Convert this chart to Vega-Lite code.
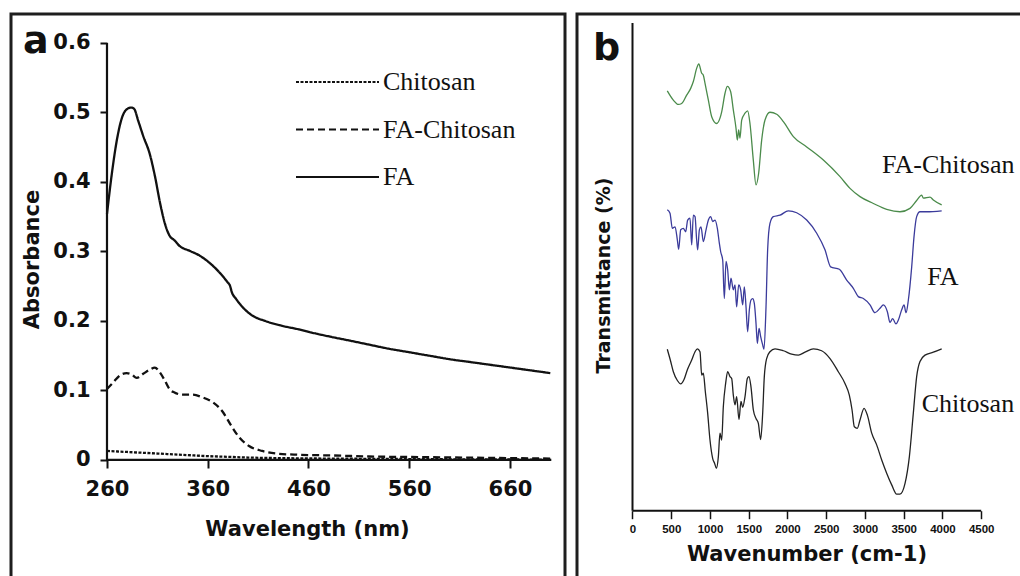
{
"$schema":"https://vega.github.io/schema/vega-lite/v6.json",
"autosize":{"type":"none"},
"padding":{"left":11,"top":14,"right":1009,"bottom":562},
"background":"white",
"bounds":"flush",
"spacing":12,
"config":{
 "view":{"stroke":"#1e1e1e","strokeWidth":3},
 "axis":{"grid":false,"domain":false,"tickColor":"#111","labelColor":"#111","titleColor":"#111","labelFont":"DejaVu Sans","titleFont":"DejaVu Sans","labelFontWeight":"bold","titleFontWeight":"bold","labelOverlap":false,"labelFlush":false},
 "legend":{"labelLimit":0}
},
"datasets":{
"uv":[
{"s":"FA","wl":260,"abs":0.354},{"s":"FA","wl":265,"abs":0.414},{"s":"FA","wl":270,"abs":0.462},{"s":"FA","wl":275,"abs":0.493},{"s":"FA","wl":280,"abs":0.505},{"s":"FA","wl":284,"abs":0.507},{"s":"FA","wl":287,"abs":0.505},{"s":"FA","wl":291,"abs":0.488},{"s":"FA","wl":296,"abs":0.466},{"s":"FA","wl":302.5,"abs":0.44},{"s":"FA","wl":307.5,"abs":0.409},{"s":"FA","wl":312.5,"abs":0.371},{"s":"FA","wl":317.5,"abs":0.34},{"s":"FA","wl":322,"abs":0.323},{"s":"FA","wl":327,"abs":0.316},{"s":"FA","wl":332,"abs":0.308},{"s":"FA","wl":342,"abs":0.301},{"s":"FA","wl":352,"abs":0.294},{"s":"FA","wl":361.5,"abs":0.284},{"s":"FA","wl":371.5,"abs":0.27},{"s":"FA","wl":379.5,"abs":0.256},{"s":"FA","wl":382,"abs":0.251},{"s":"FA","wl":384,"abs":0.241},{"s":"FA","wl":388,"abs":0.232},{"s":"FA","wl":394.5,"abs":0.22},{"s":"FA","wl":404,"abs":0.208},{"s":"FA","wl":417,"abs":0.2},{"s":"FA","wl":434,"abs":0.193},{"s":"FA","wl":450,"abs":0.188},{"s":"FA","wl":467,"abs":0.182},{"s":"FA","wl":483,"abs":0.177},{"s":"FA","wl":500,"abs":0.172},{"s":"FA","wl":520,"abs":0.166},{"s":"FA","wl":540,"abs":0.16},{"s":"FA","wl":560,"abs":0.155},{"s":"FA","wl":580,"abs":0.15},{"s":"FA","wl":600,"abs":0.145},{"s":"FA","wl":620,"abs":0.141},{"s":"FA","wl":640,"abs":0.137},{"s":"FA","wl":660,"abs":0.133},{"s":"FA","wl":680,"abs":0.129},{"s":"FA","wl":700,"abs":0.125},
{"s":"FA-Chitosan","wl":260,"abs":0.102},{"s":"FA-Chitosan","wl":266.5,"abs":0.112},{"s":"FA-Chitosan","wl":273,"abs":0.122},{"s":"FA-Chitosan","wl":279.5,"abs":0.125},{"s":"FA-Chitosan","wl":284.5,"abs":0.123},{"s":"FA-Chitosan","wl":289.5,"abs":0.118},{"s":"FA-Chitosan","wl":296,"abs":0.124},{"s":"FA-Chitosan","wl":302.5,"abs":0.13},{"s":"FA-Chitosan","wl":307.5,"abs":0.133},{"s":"FA-Chitosan","wl":312.5,"abs":0.126},{"s":"FA-Chitosan","wl":317.5,"abs":0.114},{"s":"FA-Chitosan","wl":322,"abs":0.102},{"s":"FA-Chitosan","wl":327,"abs":0.097},{"s":"FA-Chitosan","wl":335,"abs":0.094},{"s":"FA-Chitosan","wl":345,"abs":0.094},{"s":"FA-Chitosan","wl":355,"abs":0.09},{"s":"FA-Chitosan","wl":365,"abs":0.083},{"s":"FA-Chitosan","wl":375,"abs":0.069},{"s":"FA-Chitosan","wl":383,"abs":0.05},{"s":"FA-Chitosan","wl":391,"abs":0.033},{"s":"FA-Chitosan","wl":401,"abs":0.02},{"s":"FA-Chitosan","wl":414,"abs":0.013},{"s":"FA-Chitosan","wl":430,"abs":0.009},{"s":"FA-Chitosan","wl":450,"abs":0.0075},{"s":"FA-Chitosan","wl":483,"abs":0.0065},{"s":"FA-Chitosan","wl":520,"abs":0.005},{"s":"FA-Chitosan","wl":580,"abs":0.004},{"s":"FA-Chitosan","wl":640,"abs":0.003},{"s":"FA-Chitosan","wl":700,"abs":0.002},
{"s":"Chitosan","wl":260,"abs":0.013},{"s":"Chitosan","wl":280,"abs":0.0115},{"s":"Chitosan","wl":300,"abs":0.01},{"s":"Chitosan","wl":320,"abs":0.0085},{"s":"Chitosan","wl":340,"abs":0.007},{"s":"Chitosan","wl":360,"abs":0.0055},{"s":"Chitosan","wl":380,"abs":0.0045},{"s":"Chitosan","wl":400,"abs":0.0035},{"s":"Chitosan","wl":440,"abs":0.0025},{"s":"Chitosan","wl":500,"abs":0.0018},{"s":"Chitosan","wl":600,"abs":0.001},{"s":"Chitosan","wl":700,"abs":0.0005}
],
"ftir":[
{"s":"FA-Chitosan","wn":449,"t":86.1},{"s":"FA-Chitosan","wn":527,"t":84.2},{"s":"FA-Chitosan","wn":591,"t":83.3},{"s":"FA-Chitosan","wn":635,"t":83.5},{"s":"FA-Chitosan","wn":699,"t":85.2},{"s":"FA-Chitosan","wn":751,"t":86.6},{"s":"FA-Chitosan","wn":785,"t":88.0},{"s":"FA-Chitosan","wn":828,"t":90.7},{"s":"FA-Chitosan","wn":855,"t":91.6},{"s":"FA-Chitosan","wn":893,"t":89.7},{"s":"FA-Chitosan","wn":914,"t":89.3},{"s":"FA-Chitosan","wn":936,"t":87.6},{"s":"FA-Chitosan","wn":979,"t":84.2},{"s":"FA-Chitosan","wn":1022,"t":80.8},{"s":"FA-Chitosan","wn":1086,"t":79.4},{"s":"FA-Chitosan","wn":1129,"t":80.5},{"s":"FA-Chitosan","wn":1151,"t":81.8},{"s":"FA-Chitosan","wn":1194,"t":85.6},{"s":"FA-Chitosan","wn":1224,"t":87.0},{"s":"FA-Chitosan","wn":1267,"t":85.9},{"s":"FA-Chitosan","wn":1301,"t":82.2},{"s":"FA-Chitosan","wn":1336,"t":78.4},{"s":"FA-Chitosan","wn":1353,"t":76.0},{"s":"FA-Chitosan","wn":1370,"t":78.1},{"s":"FA-Chitosan","wn":1387,"t":76.4},{"s":"FA-Chitosan","wn":1409,"t":80.1},{"s":"FA-Chitosan","wn":1452,"t":81.5},{"s":"FA-Chitosan","wn":1486,"t":82.0},{"s":"FA-Chitosan","wn":1516,"t":79.4},{"s":"FA-Chitosan","wn":1559,"t":71.9},{"s":"FA-Chitosan","wn":1594,"t":66.8},{"s":"FA-Chitosan","wn":1628,"t":69.2},{"s":"FA-Chitosan","wn":1667,"t":76.0},{"s":"FA-Chitosan","wn":1710,"t":80.1},{"s":"FA-Chitosan","wn":1774,"t":81.7},{"s":"FA-Chitosan","wn":1861,"t":81.3},{"s":"FA-Chitosan","wn":1947,"t":79.8},{"s":"FA-Chitosan","wn":2076,"t":76.7},{"s":"FA-Chitosan","wn":2248,"t":74.6},{"s":"FA-Chitosan","wn":2463,"t":71.9},{"s":"FA-Chitosan","wn":2678,"t":68.5},{"s":"FA-Chitosan","wn":2807,"t":66.1},{"s":"FA-Chitosan","wn":2936,"t":64.4},{"s":"FA-Chitosan","wn":3108,"t":63.0},{"s":"FA-Chitosan","wn":3280,"t":61.8},{"s":"FA-Chitosan","wn":3452,"t":61.3},{"s":"FA-Chitosan","wn":3581,"t":62.0},{"s":"FA-Chitosan","wn":3667,"t":63.6},{"s":"FA-Chitosan","wn":3732,"t":64.7},{"s":"FA-Chitosan","wn":3753,"t":64.1},{"s":"FA-Chitosan","wn":3839,"t":64.3},{"s":"FA-Chitosan","wn":3882,"t":63.7},{"s":"FA-Chitosan","wn":3990,"t":62.7},
{"s":"FA","wn":449,"t":61.7},{"s":"FA","wn":484,"t":61.0},{"s":"FA","wn":514,"t":57.9},{"s":"FA","wn":549,"t":58.2},{"s":"FA","wn":579,"t":55.5},{"s":"FA","wn":596,"t":53.6},{"s":"FA","wn":622,"t":57.6},{"s":"FA","wn":656,"t":57.9},{"s":"FA","wn":686,"t":57.2},{"s":"FA","wn":712,"t":59.6},{"s":"FA","wn":742,"t":60.0},{"s":"FA","wn":764,"t":54.5},{"s":"FA","wn":785,"t":60.6},{"s":"FA","wn":807,"t":60.3},{"s":"FA","wn":828,"t":55.5},{"s":"FA","wn":841,"t":53.5},{"s":"FA","wn":863,"t":57.6},{"s":"FA","wn":884,"t":58.2},{"s":"FA","wn":914,"t":55.2},{"s":"FA","wn":949,"t":57.6},{"s":"FA","wn":979,"t":59.6},{"s":"FA","wn":1009,"t":60.3},{"s":"FA","wn":1035,"t":59.3},{"s":"FA","wn":1065,"t":59.6},{"s":"FA","wn":1095,"t":57.9},{"s":"FA","wn":1121,"t":54.8},{"s":"FA","wn":1138,"t":53.1},{"s":"FA","wn":1164,"t":51.4},{"s":"FA","wn":1185,"t":43.5},{"s":"FA","wn":1207,"t":51.1},{"s":"FA","wn":1228,"t":49.4},{"s":"FA","wn":1250,"t":45.3},{"s":"FA","wn":1271,"t":47.7},{"s":"FA","wn":1301,"t":45.3},{"s":"FA","wn":1323,"t":46.3},{"s":"FA","wn":1344,"t":41.8},{"s":"FA","wn":1370,"t":46.3},{"s":"FA","wn":1396,"t":45.3},{"s":"FA","wn":1422,"t":42.2},{"s":"FA","wn":1443,"t":45.9},{"s":"FA","wn":1465,"t":41.8},{"s":"FA","wn":1486,"t":36.7},{"s":"FA","wn":1508,"t":41.2},{"s":"FA","wn":1529,"t":43.2},{"s":"FA","wn":1551,"t":43.5},{"s":"FA","wn":1572,"t":42.5},{"s":"FA","wn":1594,"t":38.4},{"s":"FA","wn":1611,"t":34.3},{"s":"FA","wn":1633,"t":37.4},{"s":"FA","wn":1654,"t":35.7},{"s":"FA","wn":1680,"t":34.0},{"s":"FA","wn":1697,"t":33.1},{"s":"FA","wn":1723,"t":41.8},{"s":"FA","wn":1744,"t":53.5},{"s":"FA","wn":1774,"t":58.9},{"s":"FA","wn":1817,"t":60.3},{"s":"FA","wn":1904,"t":60.6},{"s":"FA","wn":2011,"t":61.5},{"s":"FA","wn":2119,"t":61.1},{"s":"FA","wn":2248,"t":59.6},{"s":"FA","wn":2377,"t":56.9},{"s":"FA","wn":2484,"t":53.5},{"s":"FA","wn":2557,"t":50.0},{"s":"FA","wn":2669,"t":49.5},{"s":"FA","wn":2764,"t":47.3},{"s":"FA","wn":2850,"t":45.6},{"s":"FA","wn":2914,"t":43.9},{"s":"FA","wn":2979,"t":43.5},{"s":"FA","wn":3065,"t":42.2},{"s":"FA","wn":3129,"t":40.6},{"s":"FA","wn":3194,"t":41.5},{"s":"FA","wn":3237,"t":42.2},{"s":"FA","wn":3289,"t":40.8},{"s":"FA","wn":3323,"t":38.6},{"s":"FA","wn":3357,"t":39.4},{"s":"FA","wn":3400,"t":38.3},{"s":"FA","wn":3431,"t":39.1},{"s":"FA","wn":3474,"t":41.2},{"s":"FA","wn":3504,"t":42.2},{"s":"FA","wn":3530,"t":40.6},{"s":"FA","wn":3560,"t":43.2},{"s":"FA","wn":3603,"t":50.0},{"s":"FA","wn":3633,"t":56.2},{"s":"FA","wn":3667,"t":60.3},{"s":"FA","wn":3710,"t":61.3},{"s":"FA","wn":3796,"t":61.3},{"s":"FA","wn":3990,"t":61.5},
{"s":"Chitosan","wn":449,"t":33.1},{"s":"Chitosan","wn":493,"t":30.6},{"s":"Chitosan","wn":527,"t":28.5},{"s":"Chitosan","wn":579,"t":26.7},{"s":"Chitosan","wn":622,"t":26.0},{"s":"Chitosan","wn":665,"t":26.9},{"s":"Chitosan","wn":708,"t":28.9},{"s":"Chitosan","wn":764,"t":30.9},{"s":"Chitosan","wn":807,"t":32.6},{"s":"Chitosan","wn":837,"t":33.2},{"s":"Chitosan","wn":871,"t":32.6},{"s":"Chitosan","wn":893,"t":27.8},{"s":"Chitosan","wn":914,"t":28.2},{"s":"Chitosan","wn":940,"t":24.4},{"s":"Chitosan","wn":970,"t":20.0},{"s":"Chitosan","wn":1000,"t":14.5},{"s":"Chitosan","wn":1035,"t":10.7},{"s":"Chitosan","wn":1060,"t":9.7},{"s":"Chitosan","wn":1082,"t":8.7},{"s":"Chitosan","wn":1108,"t":11.1},{"s":"Chitosan","wn":1129,"t":15.9},{"s":"Chitosan","wn":1151,"t":14.5},{"s":"Chitosan","wn":1172,"t":21.3},{"s":"Chitosan","wn":1202,"t":26.1},{"s":"Chitosan","wn":1228,"t":28.5},{"s":"Chitosan","wn":1258,"t":27.5},{"s":"Chitosan","wn":1280,"t":27.1},{"s":"Chitosan","wn":1301,"t":23.7},{"s":"Chitosan","wn":1323,"t":21.7},{"s":"Chitosan","wn":1344,"t":23.4},{"s":"Chitosan","wn":1374,"t":18.7},{"s":"Chitosan","wn":1400,"t":22.4},{"s":"Chitosan","wn":1422,"t":21.2},{"s":"Chitosan","wn":1452,"t":23.4},{"s":"Chitosan","wn":1482,"t":27.1},{"s":"Chitosan","wn":1503,"t":27.5},{"s":"Chitosan","wn":1529,"t":25.4},{"s":"Chitosan","wn":1559,"t":20.7},{"s":"Chitosan","wn":1594,"t":18.9},{"s":"Chitosan","wn":1624,"t":17.9},{"s":"Chitosan","wn":1654,"t":14.6},{"s":"Chitosan","wn":1680,"t":20.0},{"s":"Chitosan","wn":1701,"t":27.5},{"s":"Chitosan","wn":1731,"t":31.2},{"s":"Chitosan","wn":1774,"t":32.6},{"s":"Chitosan","wn":1839,"t":33.2},{"s":"Chitosan","wn":1947,"t":32.8},{"s":"Chitosan","wn":2054,"t":32.1},{"s":"Chitosan","wn":2140,"t":31.9},{"s":"Chitosan","wn":2226,"t":32.5},{"s":"Chitosan","wn":2334,"t":33.2},{"s":"Chitosan","wn":2441,"t":32.8},{"s":"Chitosan","wn":2549,"t":31.2},{"s":"Chitosan","wn":2656,"t":28.5},{"s":"Chitosan","wn":2742,"t":26.1},{"s":"Chitosan","wn":2798,"t":23.7},{"s":"Chitosan","wn":2833,"t":20.7},{"s":"Chitosan","wn":2863,"t":17.2},{"s":"Chitosan","wn":2901,"t":16.9},{"s":"Chitosan","wn":2936,"t":18.6},{"s":"Chitosan","wn":2988,"t":21.0},{"s":"Chitosan","wn":3031,"t":19.6},{"s":"Chitosan","wn":3087,"t":15.9},{"s":"Chitosan","wn":3151,"t":13.5},{"s":"Chitosan","wn":3216,"t":10.4},{"s":"Chitosan","wn":3280,"t":7.7},{"s":"Chitosan","wn":3345,"t":5.3},{"s":"Chitosan","wn":3409,"t":3.4},{"s":"Chitosan","wn":3452,"t":3.4},{"s":"Chitosan","wn":3517,"t":5.6},{"s":"Chitosan","wn":3573,"t":11.1},{"s":"Chitosan","wn":3624,"t":20.0},{"s":"Chitosan","wn":3667,"t":27.5},{"s":"Chitosan","wn":3710,"t":30.6},{"s":"Chitosan","wn":3775,"t":31.9},{"s":"Chitosan","wn":3882,"t":32.5},{"s":"Chitosan","wn":3990,"t":33.2}
]
},
"hconcat":[
{
 "width":554,"height":586,
 "data":{"name":"uv"},
 "layer":[
  {"mark":{"type":"line","strokeWidth":2.3,"color":"#111","interpolate":"monotone"},
   "encoding":{
    "x":{"field":"wl","type":"quantitative","scale":{"domain":[164.72,714.6],"nice":false,"zero":false},
     "axis":{"orient":"bottom","offset":-140,"values":[260,360,460,560,660],"tickSize":8,"tickWidth":2,"labelFontSize":21,"labelPadding":10,"title":"Wavelength (nm)","titleFontSize":21,"titleX":296,"titleY":75,"titleAlign":"center","titleBaseline":"alphabetic"}},
    "y":{"field":"abs","type":"quantitative","scale":{"domain":[-0.2015,0.6417],"nice":false,"zero":false},
     "axis":{"orient":"left","offset":-96,"values":[0,0.1,0.2,0.3,0.4,0.5,0.6],"format":"~g","tickSize":7,"tickWidth":2,"labelFontSize":21,"labelPadding":10,"title":"Absorbance","titleFontSize":21,"titleX":-75,"titleY":245,"titleAngle":270,"titleAlign":"center","titleBaseline":"middle"}},
    "strokeDash":{"field":"s","type":"nominal","scale":{"domain":["Chitosan","FA-Chitosan","FA"],"range":[[3,1.5],[7,4],[1,0]]},
     "legend":{"orient":"none","legendX":284,"legendY":53,"title":null,"symbolType":"stroke","symbolSize":6889,"symbolStrokeWidth":2,"symbolStrokeColor":"#111","clipHeight":30,"rowPadding":17.5,"labelFont":"Liberation Serif","labelFontSize":26,"labelColor":"#111","labelOffset":3}}
   }},
  {"transform":[{"aggregate":[{"op":"count","as":"n"}]}],
   "mark":{"type":"rule","strokeWidth":2.2,"color":"#111"},
   "encoding":{"x":{"datum":260},"x2":{"datum":701},"y":{"datum":0}}},
  {"transform":[{"aggregate":[{"op":"count","as":"n"}]}],
   "mark":{"type":"rule","strokeWidth":2.2,"color":"#111"},
   "encoding":{"x":{"datum":260},"y":{"datum":0},"y2":{"datum":0.6}}},
  {"data":{"values":[{"label":"a"}]},
   "mark":{"type":"text","align":"left","baseline":"alphabetic","font":"DejaVu Sans","fontWeight":"bold","fontSize":38,"color":"#111"},
   "encoding":{"text":{"field":"label"},"x":{"datum":176.6},"y":{"datum":0.5856}}}
 ]
},
{
 "width":460,"height":586,
 "layer":[
  {"data":{"name":"ftir"},
   "mark":{"type":"line","strokeWidth":1.3,"interpolate":"monotone"},
   "encoding":{
    "x":{"field":"wn","type":"quantitative","scale":{"domain":[-716.2,5220],"nice":false,"zero":false},
     "axis":{"orient":"bottom","offset":-89.3,"values":[0,250,500,750,1000,1250,1500,1750,2000,2250,2500,2750,3000,3250,3500,3750,4000,4250,4500],"format":"d","labelExpr":"datum.value % 500 === 0 ? datum.label : ''","tickSize":{"condition":{"test":"datum.value % 500 === 0","value":8},"value":5},"tickWidth":1.5,"labelFont":"Liberation Sans","labelFontSize":11.5,"labelPadding":5,"title":"Wavenumber (cm-1)","titleFontSize":21,"titleX":229.5,"titleY":49.3,"titleAlign":"center","titleBaseline":"alphabetic"}},
    "y":{"field":"t","type":"quantitative","scale":{"domain":[-18.31,101.85],"nice":false,"zero":false},
     "axis":{"orient":"left","offset":-55.5,"ticks":false,"labels":false,"title":"Transmittance (%)","titleFontSize":19,"titleX":-29.5,"titleY":261,"titleAngle":270,"titleAlign":"center","titleBaseline":"middle"}},
    "color":{"field":"s","type":"nominal","scale":{"domain":["FA-Chitosan","FA","Chitosan"],"range":["#4b8b4b","#3b3b9b","#222222"]},"legend":null}
   }},
  {"data":{"name":"ftir"},"transform":[{"aggregate":[{"op":"count","as":"n"}]}],
   "mark":{"type":"rule","strokeWidth":2,"color":"#111"},
   "encoding":{"x":{"datum":0},"x2":{"datum":4500},"y":{"datum":0}}},
  {"data":{"name":"ftir"},"transform":[{"aggregate":[{"op":"count","as":"n"}]}],
   "mark":{"type":"rule","strokeWidth":2,"color":"#111"},
   "encoding":{"x":{"datum":0},"y":{"datum":0},"y2":{"datum":100}}},
  {"data":{"values":[{"label":"FA-Chitosan"}]},
   "mark":{"type":"text","align":"left","baseline":"alphabetic","font":"Liberation Serif","fontSize":26,"color":"#111"},
   "encoding":{"text":{"field":"label"},"x":{"datum":3220},"y":{"datum":69.2}}},
  {"data":{"values":[{"label":"FA"}]},
   "mark":{"type":"text","align":"left","baseline":"alphabetic","font":"Liberation Serif","fontSize":26,"color":"#111"},
   "encoding":{"text":{"field":"label"},"x":{"datum":3804},"y":{"datum":46.3}}},
  {"data":{"values":[{"label":"Chitosan"}]},
   "mark":{"type":"text","align":"left","baseline":"alphabetic","font":"Liberation Serif","fontSize":26,"color":"#111"},
   "encoding":{"text":{"field":"label"},"x":{"datum":3732},"y":{"datum":20.3}}},
  {"data":{"values":[{"label":"b"}]},
   "mark":{"type":"text","align":"left","baseline":"alphabetic","font":"DejaVu Sans","fontWeight":"bold","fontSize":38,"color":"#111"},
   "encoding":{"text":{"field":"label"},"x":{"datum":-509.7},"y":{"datum":92.42}}}
 ]
}
]
}
